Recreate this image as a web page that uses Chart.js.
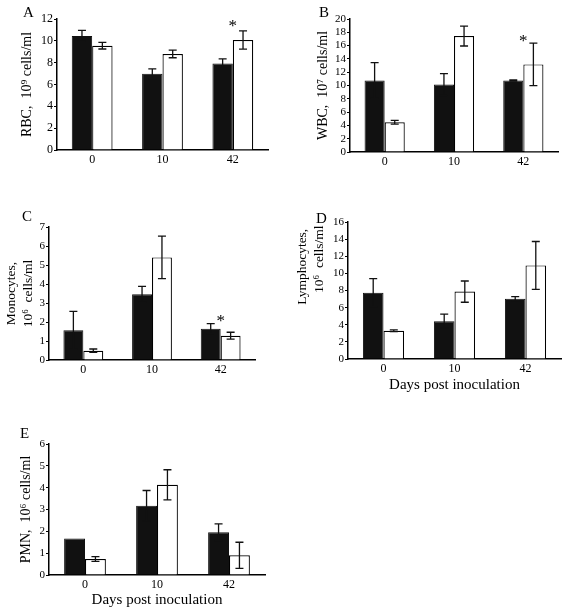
<!DOCTYPE html>
<html><head><meta charset="utf-8">
<script src="https://cdn.jsdelivr.net/npm/chart.js@4"></script>
<style>
body{margin:0;background:#fff;width:566px;height:611px;position:relative;overflow:hidden;font-family:"Liberation Serif","Times New Roman",serif}
canvas{position:absolute}
.lbl{position:absolute;font:15px/15px "Liberation Serif",serif;color:#000}
</style></head><body>
<canvas id="cA" width="283" height="200" style="left:0;top:0"></canvas>
<canvas id="cB" width="283" height="200" style="left:283px;top:0"></canvas>
<canvas id="cC" width="283" height="210" style="left:0;top:200px"></canvas>
<canvas id="cD" width="283" height="210" style="left:283px;top:200px"></canvas>
<canvas id="cE" width="283" height="201" style="left:0;top:410px"></canvas>
<div class="lbl" style="left:23px;top:5px">A</div>
<div class="lbl" style="left:319px;top:5px">B</div>
<div class="lbl" style="left:22px;top:209px">C</div>
<div class="lbl" style="left:316px;top:211px">D</div>
<div class="lbl" style="left:20px;top:426px">E</div>
<script>
// ---- data ----
const categories = ['0', '10', '42'];

const rbcBlack = [10.45, 6.98, 7.92];
const rbcBlackErr = [0.5, 0.45, 0.43];
const rbcWhite = [9.55, 8.8, 10.08];
const rbcWhiteErr = [0.3, 0.35, 0.84];

const wbcBlack = [10.75, 10.15, 10.75];
const wbcBlackErr = [2.7, 1.65, 0.1];
const wbcWhite = [4.47, 17.44, 13.17];
const wbcWhiteErr = [0.28, 1.5, 3.2];

const monoBlack = [1.56, 3.46, 1.65];
const monoBlackErr = [1.0, 0.42, 0.26];
const monoWhite = [0.49, 5.4, 1.28];
const monoWhiteErr = [0.09, 1.12, 0.18];

const lymphBlack = [7.75, 4.42, 7.05];
const lymphBlackErr = [1.63, 0.81, 0.24];
const lymphWhite = [3.29, 7.87, 10.93];
const lymphWhiteErr = [0.1, 1.24, 2.79];

const pmnBlack = [1.67, 3.17, 1.96];
const pmnBlackErr = [0, 0.7, 0.38];
const pmnWhite = [0.73, 4.13, 0.9];
const pmnWhiteErr = [0.11, 0.69, 0.6];

// significance markers: category index and value height
const rbcStars = [{index: 2, value: 11.6}];
const wbcStars = [{index: 2, value: 17.1}];
const monoStars = [{index: 2, value: 2.18}];

const rbcTicks = {max: 12, step: 2};
const wbcTicks = {max: 20, step: 2};
const monoTicks = {max: 7, step: 1};
const lymphTicks = {max: 16, step: 2};
const pmnTicks = {max: 6, step: 1};

// ---- drawing ----
const SERIF = '"Liberation Serif","Times New Roman",serif';
Chart.defaults.color = '#000';
Chart.defaults.font.family = SERIF;

const errorBarPlugin = {
  id: 'errorBars',
  afterDatasetsDraw(chart) {
    const ctx = chart.ctx;
    const y = chart.scales.y, x = chart.scales.x;
    ctx.save();
    ctx.strokeStyle = '#111';
    ctx.lineWidth = 1.3;
    chart.data.datasets.forEach((ds, di) => {
      const meta = chart.getDatasetMeta(di);
      meta.data.forEach((el, i) => {
        const e = ds.errors[i];
        if (!e) return;
        const v = ds.data[i];
        const yt = y.getPixelForValue(v + e);
        const yb = y.getPixelForValue(v - e);
        const cx = el.x, cw = 4;
        ctx.beginPath();
        ctx.moveTo(cx, yt); ctx.lineTo(cx, yb);
        ctx.moveTo(cx - cw, yt); ctx.lineTo(cx + cw, yt);
        ctx.moveTo(cx - cw, yb); ctx.lineTo(cx + cw, yb);
        ctx.stroke();
      });
    });
    const stars = chart.options.plugins.errorBars.stars || [];
    ctx.fillStyle = '#000';
    ctx.font = '17px ' + SERIF;
    ctx.textAlign = 'center';
    ctx.textBaseline = 'middle';
    stars.forEach(s => {
      ctx.fillText('*', x.getPixelForValue(s.index), y.getPixelForValue(s.value) + 3);
    });
    ctx.restore();
  }
};

function makePanel(id, black, blackErr, white, whiteErr, ticks, title, geo, stars, xTitle) {
  new Chart(document.getElementById(id), {
    type: 'bar',
    data: {
      labels: categories,
      datasets: [
        {data: black, errors: blackErr, backgroundColor: '#111', borderColor: '#111', borderWidth: 1,
         categoryPercentage: 0.58, barPercentage: 1},
        {data: white, errors: whiteErr, backgroundColor: '#fff', borderColor: '#000', borderWidth: 1.2,
         categoryPercentage: 0.58, barPercentage: 1}
      ]
    },
    plugins: [errorBarPlugin],
    options: {
      responsive: false,
      animation: false,
      layout: {padding: {top: geo.top, right: geo.right, left: 0, bottom: 0}},
      plugins: {legend: {display: false}, tooltip: {enabled: false}, errorBars: {stars: stars}},
      scales: {
        x: {
          afterFit(s) { s.height = geo.xh; },
          grid: {display: false, drawTicks: false},
          border: {display: true, color: '#000', width: 1.5},
          ticks: {font: {size: 12, family: SERIF}, padding: 3, color: '#000'},
          title: xTitle ? {display: true, text: xTitle, font: {size: 15, family: SERIF}, color: '#000',
                           padding: {top: 0, bottom: geo.xtp}} : {display: false}
        },
        y: {
          min: 0, max: ticks.max,
          afterFit(s) { s.width = geo.yw; },
          grid: {display: true, drawOnChartArea: false, drawTicks: true, tickLength: 3, color: '#000', lineWidth: 1},
          border: {display: true, color: '#000', width: 1.5},
          ticks: {stepSize: ticks.step, autoSkip: false, font: {size: geo.tf, family: SERIF}, padding: 1, color: '#000'},
          title: {display: true, text: title, align: geo.talign || 'center',
                  font: {size: geo.ts || 14, family: SERIF, lineHeight: 1.25}, color: '#000',
                  padding: {top: geo.tp, bottom: 0}}
        }
      }
    }
  });
}

makePanel('cA', rbcBlack, rbcBlackErr, rbcWhite, rbcWhiteErr, rbcTicks,
  'RBC,  10\u2079 cells/ml', {top: 19, right: 15, xh: 50, yw: 57, tf: 12, tp: 19}, rbcStars);
makePanel('cB', wbcBlack, wbcBlackErr, wbcWhite, wbcWhiteErr, wbcTicks,
  'WBC,  10\u2077 cells/ml', {top: 19, right: 8, xh: 48, yw: 67, tf: 11, tp: 32}, wbcStars);
makePanel('cC', monoBlack, monoBlackErr, monoWhite, monoWhiteErr, monoTicks,
  ['Monocytes,', '10\u2076  cells/ml'], {top: 27, right: 28, xh: 50, yw: 49, tf: 11, tp: 3, ts: 13.5}, monoStars);
makePanel('cD', lymphBlack, lymphBlackErr, lymphWhite, lymphWhiteErr, lymphTicks,
  ['Lymphocytes,  ', '10\u2076  cells/ml '], {top: 22, right: 5, xh: 51, yw: 65, tf: 11, tp: 11, ts: 13.5, talign: 'end', xtp: 16}, [],
  'Days post inoculation');
makePanel('cE', pmnBlack, pmnBlackErr, pmnWhite, pmnWhiteErr, pmnTicks,
  'PMN,  10\u2076 cells/ml', {top: 34, right: 18, xh: 36, yw: 49, tf: 11, tp: 18, xtp: 2}, [],
  'Days post inoculation');
</script>
</body></html>
